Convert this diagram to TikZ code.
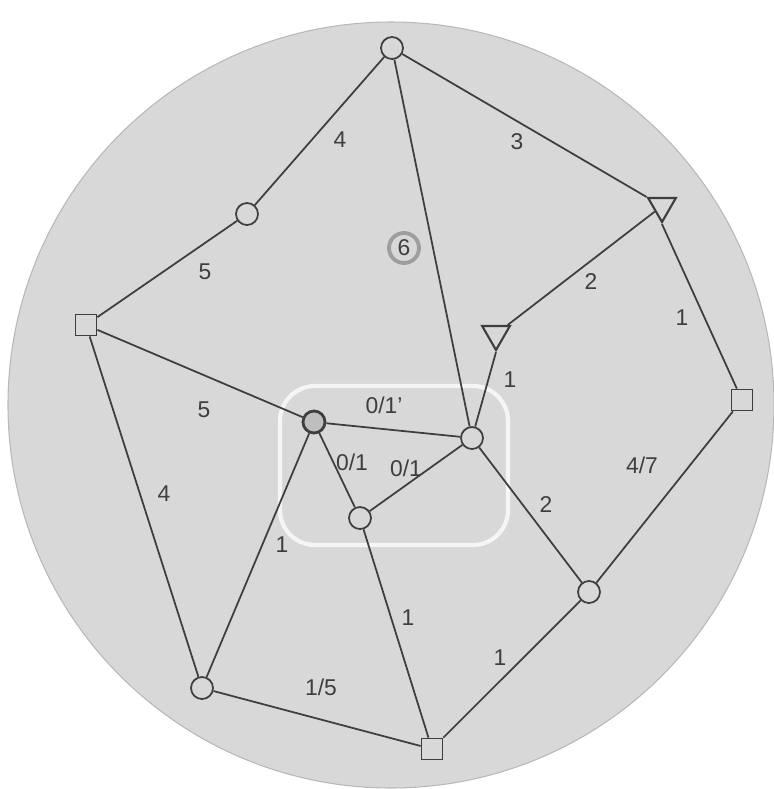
\documentclass[tikz,border=0pt]{standalone}
\usepackage{fontspec}
\setsansfont{Liberation Sans}
\usetikzlibrary{shapes.geometric}
\definecolor{discgrey}{RGB}{216,216,216}
\definecolor{inkgrey}{RGB}{62,62,62}
\definecolor{ringgrey}{RGB}{158,158,158}

\begin{document}
\begin{tikzpicture}[x=0.02cm,y=-0.02cm,
    rnd/.style={circle,draw=inkgrey,line width=1pt,minimum size=0.44cm,inner sep=0pt},
    sq/.style={rectangle,draw=inkgrey,line width=1pt,minimum size=0.42cm,inner sep=0pt},
    tri/.style={regular polygon,regular polygon sides=3,shape border rotate=180,draw=inkgrey,line width=1.2pt,minimum size=0.64cm,inner sep=0pt},
    edge/.style={draw=inkgrey,line width=1pt},
    lbl/.style={text=inkgrey,font=\sffamily\fontsize{13}{13}\selectfont}]
  \useasboundingbox (0,0) rectangle (774,789);
  % Scheibe
  \fill[discgrey] (391,405) circle[radius=383];
  \draw[discgrey!85!black,line width=0.6pt] (391,405) circle[radius=383];
  % Markierung des Kerns
  \draw[white,line width=2.4pt,opacity=0.75,rounded corners=0.7cm] (280,386) rectangle (508,545);
  \node[circle,draw=ringgrey,line width=2.2pt,minimum size=0.6cm,inner sep=0pt,lbl] (ring) at (404,248) {6};
  % Knoten
  \node[rnd] (top) at (392,48) {};
  \node[rnd] (upl) at (247,214) {};
  \node[sq] (left) at (86,325) {};
  \node[rnd,line width=1.6pt,fill=discgrey!88!black] (core) at (314,422) {};
  \node[rnd] (hub) at (472,438) {};
  \node[rnd] (mid) at (360,518) {};
  \node[tri] (tria) at (662,206) {};
  \node[tri] (trib) at (496,334) {};
  \node[sq] (right) at (742,400) {};
  \node[rnd] (lowr) at (589,592) {};
  \node[rnd] (lowl) at (202,688) {};
  \node[sq] (bot) at (432,749) {};
  % Kanten
  \draw[edge] (top) -- (upl);
  \draw[edge] (upl) -- (left);
  \draw[edge] (top) -- (tria);
  \draw[edge] (top) -- (hub);
  \draw[edge] (tria) -- (trib);
  \draw[edge] (tria.south) -- (right);
  \draw[edge] (trib.south) -- (hub);
  \draw[edge] (left) -- (core);
  \draw[edge] (left) -- (lowl);
  \draw[edge] (core) -- (hub);
  \draw[edge] (core) -- (mid);
  \draw[edge] (mid) -- (hub);
  \draw[edge] (core) -- (lowl);
  \draw[edge] (mid) -- (bot);
  \draw[edge] (hub) -- (lowr);
  \draw[edge] (right) -- (lowr);
  \draw[edge] (lowr) -- (bot);
  \draw[edge] (lowl) -- (bot);
  % Gewichte
  \node[lbl] at (340,140) {4};
  \node[lbl] at (205,272) {5};
  \node[lbl] at (517,142) {3};
  \node[lbl] at (591,282) {2};
  \node[lbl] at (682,318) {1};
  \node[lbl] at (510,380) {1};
  \node[lbl] at (204,410) {5};
  \node[lbl] at (164,494) {4};
  \node[lbl] at (384,405) {0/1'};
  \node[lbl] at (352,462) {0/1};
  \node[lbl] at (406,468) {0/1};
  \node[lbl] at (282,545) {1};
  \node[lbl] at (408,618) {1};
  \node[lbl] at (546,505) {2};
  \node[lbl] at (642,465) {4/7};
  \node[lbl] at (500,658) {1};
  \node[lbl] at (321,687) {1/5};
\end{tikzpicture}
\end{document}
